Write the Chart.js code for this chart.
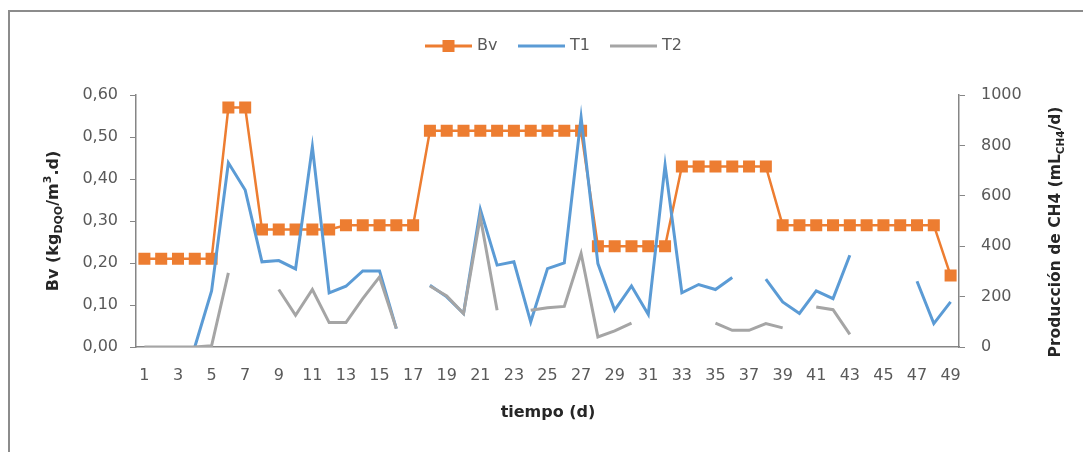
<!DOCTYPE html>
<html>
<head>
<meta charset="utf-8">
<script src="https://cdn.jsdelivr.net/npm/chart.js@4/dist/chart.umd.min.js"></script>
<style>
  body { margin: 0; background: #fff; }
  #wrap { position: relative; width: 1083px; height: 452px; }
  #frame { position: absolute; left: 8px; top: 10px; right: 0; bottom: 0;
           border-top: 2px solid #8c8c8c; border-left: 2px solid #8c8c8c; }
  canvas { position: absolute; left: 0; top: 0; }
</style>
</head>
<body>
<div id="wrap">
  <div id="frame"></div>
  <canvas id="bvChart" width="1083" height="452"></canvas>
</div>
<script>
const days = [1, 2, 3, 4, 5, 6, 7, 8, 9, 10, 11, 12, 13, 14, 15, 16, 17, 18, 19, 20,
  21, 22, 23, 24, 25, 26, 27, 28, 29, 30, 31, 32, 33, 34, 35, 36, 37, 38, 39, 40,
  41, 42, 43, 44, 45, 46, 47, 48, 49];

// carga orgánica volumétrica (eje izquierdo)
const bv = [0.21, 0.21, 0.21, 0.21, 0.21, 0.57, 0.57, 0.28, 0.28, 0.28,
  0.28, 0.28, 0.29, 0.29, 0.29, 0.29, 0.29, 0.515, 0.515, 0.515,
  0.515, 0.515, 0.515, 0.515, 0.515, 0.515, 0.515, 0.24, 0.24, 0.24,
  0.24, 0.24, 0.43, 0.43, 0.43, 0.43, 0.43, 0.43, 0.29, 0.29,
  0.29, 0.29, 0.29, 0.29, 0.29, 0.29, 0.29, 0.29, 0.17];

// producción de CH4 (eje derecho)
const t1 = [null, null, null, 0, 222, 731, 623, 338, 343, 310,
  795, 215, 241, 302, 302, 73, null, 245, 199, 133,
  546, 325, 338, 99, 311, 334, 911, 331, 146, 242,
  129, 722, 215, 248, 228, 276, null, 269, 179, 133,
  223, 192, 364, null, null, null, 261, 93, 179];

const t2 = [0, 0, 0, 0, 5, 294, null, null, 228, 126,
  228, 97, 97, 192, 278, 73, null, 242, 203, 133,
  516, 146, null, 146, 156, 161, 371, 40, 64, 95,
  null, null, null, null, 95, 66, 66, 93, 76, null,
  159, 148, 50, null, null, null, null, null, null];

const ORANGE = "#ED7D31";
const BLUE = "#5B9BD5";
const GREY = "#A5A5A5";
const AXIS = "#868686";
const TEXT = "#595959";
const FONT = "'DejaVu Sans', 'Liberation Sans', sans-serif";

// texto con subíndices / superíndices, centrado en (cx, cy)
function drawRich(ctx, parts, cx, cy, rot) {
    ctx.save();
    ctx.translate(cx, cy);
    ctx.rotate(rot);
    let total = 0;
    parts.forEach(p => {
        ctx.font = `bold ${p.size}px ${FONT}`;
        p.w = ctx.measureText(p.t).width;
        total += p.w;
    });
    let x = -total / 2;
    ctx.textBaseline = "alphabetic";
    ctx.textAlign = "left";
    ctx.fillStyle = "#262626";
    parts.forEach(p => {
        ctx.font = `bold ${p.size}px ${FONT}`;
        ctx.fillText(p.t, x, 6 + (p.dy || 0));
        x += p.w;
    });
    ctx.restore();
}

const extras = {
    id: "extras",
    afterDraw(chart) {
        const ctx = chart.ctx;
        // leyenda
        const items = [
            { label: "Bv", color: ORANGE, x: 425, marker: true },
            { label: "T1", color: BLUE, x: 518 },
            { label: "T2", color: GREY, x: 610 }
        ];
        const ly = 46;
        items.forEach(it => {
            ctx.save();
            ctx.strokeStyle = it.color;
            ctx.lineWidth = 3;
            ctx.beginPath();
            ctx.moveTo(it.x, ly);
            ctx.lineTo(it.x + 47, ly);
            ctx.stroke();
            if (it.marker) {
                ctx.fillStyle = it.color;
                ctx.fillRect(it.x + 23.5 - 6, ly - 6, 12, 12);
            }
            ctx.fillStyle = TEXT;
            ctx.font = `16px ${FONT}`;
            ctx.textBaseline = "middle";
            ctx.fillText(it.label, it.x + 52, ly);
            ctx.restore();
        });

        // títulos de ejes
        drawRich(ctx, [
            { t: "Bv (kg", size: 16 },
            { t: "DQO", size: 11, dy: 4 },
            { t: "/m", size: 16 },
            { t: "3", size: 11, dy: -7 },
            { t: ".d)", size: 16 }
        ], 52, 221, -Math.PI / 2);

        drawRich(ctx, [
            { t: "Producción de CH4 (mL", size: 15.5 },
            { t: "CH4", size: 10.5, dy: 4 },
            { t: "/d)", size: 15.5 }
        ], 1054, 232, -Math.PI / 2);

        drawRich(ctx, [{ t: "tiempo (d)", size: 16 }], 548, 411, 0);
    }
};

new Chart(document.getElementById("bvChart").getContext("2d"), {
    type: "line",
    data: {
        labels: days,
        datasets: [
            {
                label: "Bv",
                data: bv,
                yAxisID: "y",
                borderColor: ORANGE,
                backgroundColor: ORANGE,
                borderWidth: 2.5,
                pointStyle: "rect",
                pointRadius: 8.5,
                pointBorderWidth: 0,
                pointBackgroundColor: ORANGE,
                tension: 0,
                order: 3
            },
            {
                label: "T1",
                data: t1,
                yAxisID: "y1",
                borderColor: BLUE,
                borderWidth: 3,
                pointRadius: 0,
                tension: 0,
                spanGaps: false,
                order: 2
            },
            {
                label: "T2",
                data: t2,
                yAxisID: "y1",
                borderColor: GREY,
                borderWidth: 3,
                pointRadius: 0,
                tension: 0,
                spanGaps: false,
                order: 1
            }
        ]
    },
    options: {
        responsive: false,
        animation: false,
        layout: { padding: { top: 95, left: 0, right: 0, bottom: 0 } },
        plugins: {
            legend: { display: false },
            tooltip: { enabled: false }
        },
        scales: {
            x: {
                offset: true,
                afterFit: s => { s.height = 105; },
                grid: { display: false },
                border: { display: true, color: AXIS, width: 1.5 },
                ticks: {
                    autoSkip: false,
                    maxRotation: 0,
                    padding: 11,
                    color: TEXT,
                    font: { family: FONT, size: 16 },
                    callback: (v, i) => (i % 2 === 0 ? String(days[i]) : "")
                }
            },
            y: {
                position: "left",
                min: 0,
                max: 0.6,
                afterFit: s => { s.width = 136; },
                grid: { drawOnChartArea: false, color: AXIS, tickLength: 6 },
                border: { display: true, color: AXIS, width: 1.5 },
                ticks: {
                    stepSize: 0.1,
                    padding: 12,
                    color: TEXT,
                    font: { family: FONT, size: 16 },
                    callback: v => v.toFixed(2).replace(".", ",")
                }
            },
            y1: {
                position: "right",
                min: 0,
                max: 1000,
                afterFit: s => { s.width = 124; },
                grid: { drawOnChartArea: false, color: AXIS, tickLength: 6 },
                border: { display: true, color: AXIS, width: 1.5 },
                ticks: {
                    stepSize: 200,
                    padding: 16,
                    color: TEXT,
                    font: { family: FONT, size: 16 },
                    callback: v => String(v)
                }
            }
        }
    },
    plugins: [extras]
});
</script>
</body>
</html>
